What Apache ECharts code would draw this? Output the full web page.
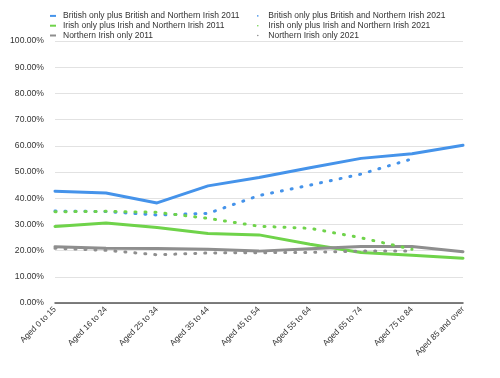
<!DOCTYPE html>
<html><head><meta charset="utf-8">
<script src="https://cdn.jsdelivr.net/npm/echarts@6/dist/echarts.min.js"></script>
<style>html,body{margin:0;padding:0;background:#fff}#c{width:500px;height:378px}</style>
</head><body><div id="c"></div>
<script>
const categories = ["Aged 0 to 15","Aged 16 to 24","Aged 25 to 34","Aged 35 to 44","Aged 45 to 54","Aged 55 to 64","Aged 65 to 74","Aged 75 to 84","Aged 85 and over"];
const british2011 = [42.7, 42.0, 38.2, 44.7, 47.9, 51.6, 55.2, 57.0, 60.2];
const irish2011 = [29.2, 30.5, 28.8, 26.5, 26.0, 22.4, 19.3, 18.2, 17.1];
const ni2011 = [21.5, 20.9, 20.8, 20.5, 19.8, 20.7, 21.6, 21.6, 19.6];
const british2021 = [35.1, 34.9, 33.6, 34.2, 41.0, 45.0, 49.2, 55.0, null];
const irish2021 = [34.8, 35.0, 34.6, 32.3, 29.3, 28.5, 24.9, 20.5, null];
const ni2021 = [20.9, 20.1, 18.4, 19.1, 19.2, 19.3, 19.8, 19.8, null];
const seriesNames = ["British only plus British and Northern Irish 2011","Irish only plus Irish and Northern Irish 2011","Northern Irish only 2011","British only plus British and Northern Irish 2021","Irish only plus Irish and Northern Irish 2021","Northern Irish only 2021"];
const colors = ["#4593ea","#6fd34a","#8e8e8e"];

const font = "'Liberation Sans', Arial, sans-serif";
const chart = echarts.init(document.getElementById('c'), null, {renderer:'canvas'});
function solid(name, data, color){
  return {name, type:'line', data, symbol:'none', smooth:false, color,
    lineStyle:{color, width:3, cap:'round', join:'round'}};
}
function dotted(name, data, color){
  return {name, type:'line', data, symbol:'none', color, connectNulls:false,
    lineStyle:{color, width:3, type:[1,9], cap:'round'}};
}
const legText = {fontSize:8.5, color:'#333', fontFamily:font, lineHeight:9.8, padding:[0,0,0,2]};
chart.setOption({
  animation:false,
  textStyle:{fontFamily:font},
  legend:[
    {left:45, top:6, orient:'vertical', itemGap:0, itemWidth:6, itemHeight:2,
     icon:'rect', data:seriesNames.slice(0,3), textStyle:legText},
    {left:252, top:6, orient:'vertical', itemGap:0, itemWidth:7, itemHeight:1.6,
     icon:'circle', data:seriesNames.slice(3,6), textStyle:legText}
  ],
  grid:{left:55, right:37, top:41, bottom:75, containLabel:false},
  xAxis:{type:'category', data:categories, boundaryGap:false,
    axisLine:{lineStyle:{color:'#555', width:1.5}},
    axisTick:{show:false},
    axisLabel:{rotate:45, fontSize:8.3, color:'#333', margin:5, interval:0, fontFamily:font}},
  yAxis:{type:'value', min:0, max:100, interval:10,
    axisLine:{show:false}, axisTick:{show:false},
    splitLine:{lineStyle:{color:'#e2e2e2'}},
    axisLabel:{fontSize:8.6, color:'#333', margin:11, fontFamily:font,
      formatter:v=>v.toFixed(2)+'%'}},
  series:[
    solid(seriesNames[0], british2011, colors[0]),
    solid(seriesNames[1], irish2011, colors[1]),
    solid(seriesNames[2], ni2011, colors[2]),
    dotted(seriesNames[3], british2021, colors[0]),
    dotted(seriesNames[4], irish2021, colors[1]),
    dotted(seriesNames[5], ni2021, colors[2])
  ]
});
</script></body></html>
